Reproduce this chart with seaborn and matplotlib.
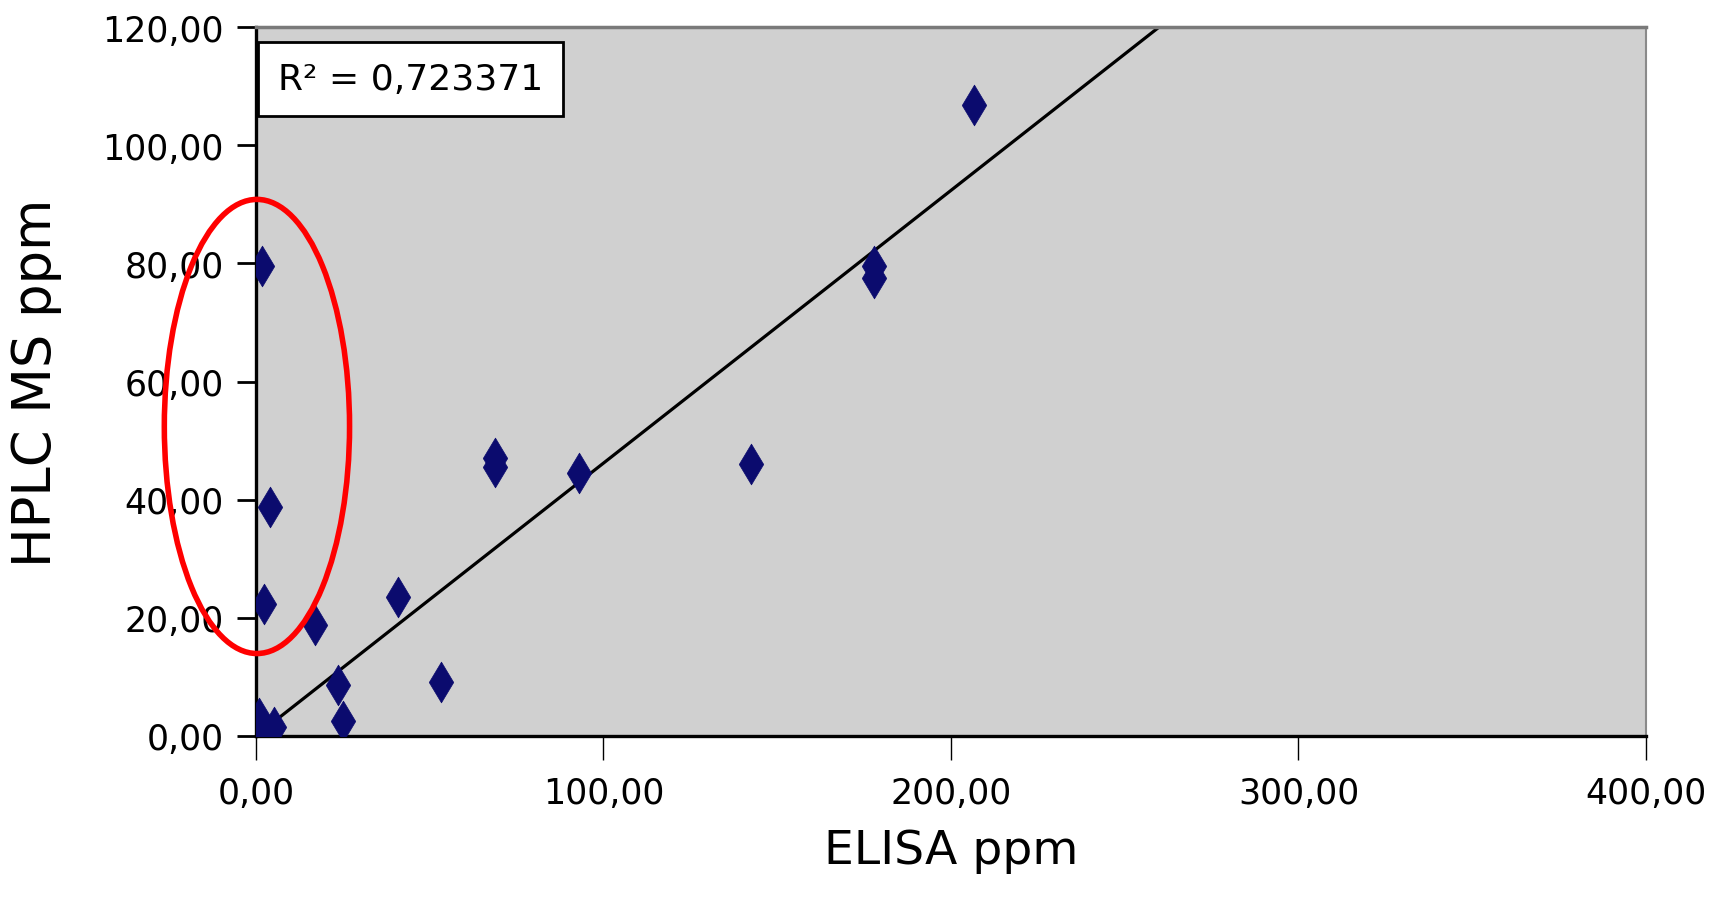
import numpy as np
import pandas as pd
import matplotlib.pyplot as plt
import seaborn as sns
from matplotlib.patches import Ellipse

# values
elisa = [206.5, 178.0, 178.0, 142.4, 92.9, 68.8, 68.8, 53.3, 40.9, 25.1,
         23.5, 17.1, 5.1, 4.1, 2.2, 1.9, 1.0, 0.5, 0.3, 0.2]
hplc = [106.8, 79.5, 77.5, 46.1, 44.6, 47.0, 45.5, 9.1, 23.5, 2.6,
        8.6, 18.7, 1.5, 38.8, 22.4, 79.5, 3.0, 1.5, 0.2, 0.8]
x_ticks = [0, 100, 200, 300, 400]
x_labels = ['0,00', '100,00', '200,00', '300,00', '400,00']
y_ticks = [0, 20, 40, 60, 80, 100, 120]
y_labels = ['0,00', '20,00', '40,00', '60,00', '80,00', '100,00', '120,00']
r2_text = 'R² = 0,723371'

df = pd.DataFrame({'ELISA': elisa, 'HPLC': hplc})

# trendline forced through the origin (as Excel does with intercept = 0)
slope = np.sum(df.ELISA * df.HPLC) / np.sum(df.ELISA ** 2)

sns.set_style('white')
plt.rcParams['font.family'] = ['DejaVu Sans']
plt.rcParams['text.color'] = 'black'
plt.rcParams['axes.labelcolor'] = 'black'
plt.rcParams['xtick.color'] = 'black'
plt.rcParams['ytick.color'] = 'black'

fig = plt.figure(figsize=(17.29, 9.12), dpi=100)
ax = fig.add_axes([0.148, 0.192, 0.804, 0.777])
ax.set_facecolor('#d0d0d0')

line_x = np.array([0, 400])
ax.plot(line_x, slope * line_x, color='black', lw=2.3, zorder=2)

sns.scatterplot(data=df, x='ELISA', y='HPLC', ax=ax, marker='d', s=430,
                color='#0b0b6e', edgecolor='#0b0b6e', linewidth=0.5, zorder=3)

ax.set_xlim(0, 400)
ax.set_ylim(0, 120)
ax.set_xticks(x_ticks)
ax.set_xticklabels(x_labels, fontsize=25)
ax.set_yticks(y_ticks)
ax.set_yticklabels(y_labels, fontsize=25)
ax.tick_params(axis='x', direction='out', length=17, width=1, pad=12, bottom=True)
ax.tick_params(axis='y', direction='out', length=14, width=2, pad=9, left=True)

ax.set_xlabel('ELISA ppm', fontsize=34)
ax.set_ylabel('HPLC MS ppm', fontsize=38)
ax.xaxis.set_label_coords(0.5, -0.162)
ax.xaxis.label.set_va('center')
ax.yaxis.set_label_coords(-0.158, 0.5)
ax.yaxis.label.set_va('center')

for side in ['left', 'bottom']:
    ax.spines[side].set_color('black')
    ax.spines[side].set_linewidth(2.4)
ax.spines['top'].set_color('#7a7a7a')
ax.spines['top'].set_linewidth(2.5)
ax.spines['right'].set_color('#8a8a8a')
ax.spines['right'].set_linewidth(1.5)

ax.text(0.111, 0.927, r2_text, transform=ax.transAxes, ha='center', va='center',
        fontsize=26, color='black', zorder=5,
        bbox=dict(boxstyle='square,pad=0.55', facecolor='white', edgecolor='black', lw=2))

ax.add_patch(Ellipse((0.3, 52.4), 53.3, 76.9, fill=False, edgecolor='red',
                     lw=4, clip_on=False, zorder=6))

fig.savefig('out.png', dpi=100, facecolor='white')
